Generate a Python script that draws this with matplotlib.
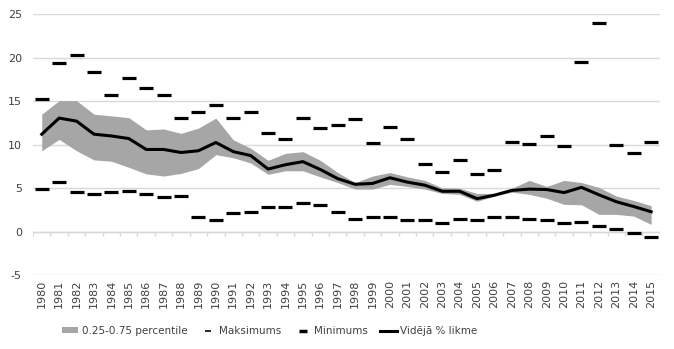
import matplotlib
matplotlib.use("Agg")
import matplotlib.pyplot as plt
import numpy as np
from matplotlib.lines import Line2D
from matplotlib.patches import Patch

# data
years = list(range(1980, 2016))
mean_rate = [11.2, 13.05, 12.7, 11.2, 11.0, 10.7, 9.45, 9.45, 9.1, 9.3,
             10.25, 9.2, 8.75, 7.2, 7.7, 8.05, 7.15, 6.1, 5.45, 5.55,
             6.2, 5.7, 5.35, 4.65, 4.65, 3.8, 4.2, 4.75, 4.9, 4.85,
             4.5, 5.1, 4.25, 3.45, 2.9, 2.3]
p75 = [13.5, 15.05, 15.05, 13.5, 13.3, 13.1, 11.7, 11.8, 11.3, 11.9,
       13.05, 10.55, 9.6, 8.2, 9.0, 9.2, 8.2, 6.8, 5.65, 6.4,
       6.8, 6.3, 5.9, 5.05, 5.0, 4.4, 4.4, 5.0, 5.9, 5.2,
       5.9, 5.65, 5.1, 4.1, 3.6, 3.0]
p25 = [9.3, 10.6, 9.3, 8.25, 8.1, 7.4, 6.65, 6.4, 6.7, 7.25,
       8.85, 8.5, 7.9, 6.6, 7.0, 7.0, 6.3, 5.65, 4.9, 4.9,
       5.45, 5.2, 4.9, 4.4, 4.3, 3.5, 4.1, 4.55, 4.3, 3.85,
       3.15, 3.1, 2.0, 2.0, 1.8, 0.85]
maxima = [15.2, 19.4, 20.3, 18.3, 15.7, 17.7, 16.5, 15.7, 13.1, 13.8,
          14.6, 13.1, 13.7, 11.3, 10.6, 13.1, 11.9, 12.2, 12.9, 10.2,
          12.0, 10.7, 7.8, 6.9, 8.2, 6.6, 7.1, 10.25, 10.1, 11.0,
          9.8, 19.5, 24.0, 10.0, 9.1, 10.25]
minima = [4.9, 5.7, 4.6, 4.3, 4.6, 4.7, 4.3, 4.0, 4.1, 1.7,
          1.3, 2.1, 2.3, 2.8, 2.9, 3.3, 3.1, 2.3, 1.5, 1.7,
          1.7, 1.4, 1.3, 1.0, 1.5, 1.4, 1.7, 1.7, 1.5, 1.4,
          1.0, 1.15, 0.7, 0.35, -0.1, -0.6]

legend_labels = ["0.25-0.75 percentile", "Maksimums", "Minimums", "Vidējā % likme"]

band_color = "#a6a6a6"
grid_color = "#d9d9d9"
text_color = "#404040"

plt.rcParams['font.family'] = ['DejaVu Sans']
plt.rcParams['axes.unicode_minus'] = False

fig = plt.figure(figsize=(6.74, 3.49), dpi=100)
ax = fig.add_axes([0.049, 0.211, 0.93, 0.749])

x = np.arange(len(years))

ax.fill_between(x, p25, p75, color=band_color, linewidth=0, zorder=2)
ax.plot(x, maxima, linestyle="none", marker="_", markersize=9.5,
        markeredgewidth=2.3, color="black", zorder=3)
ax.plot(x, minima, linestyle="none", marker="_", markersize=9.5,
        markeredgewidth=2.3, color="black", zorder=3)
ax.plot(x, mean_rate, color="black", linewidth=2.2, zorder=4)

ax.set_ylim(-5, 25)
ax.set_xlim(-0.5, len(years) - 0.5)
ax.set_yticks(range(-5, 30, 5))
ax.yaxis.grid(True, color=grid_color, linewidth=1)
ax.set_axisbelow(True)
for s in ax.spines.values():
    s.set_visible(False)
ax.tick_params(axis="y", length=0, labelsize=8, labelcolor=text_color, pad=8)

# category axis crossing at zero with small tick marks between categories
ax.axhline(0, color=grid_color, linewidth=1, zorder=1)
bounds = np.arange(len(years) + 1) - 0.5
ax.vlines(bounds, -0.45, 0, color=grid_color, linewidth=1, zorder=1)

ax.set_xticks(x)
ax.set_xticklabels([str(y) for y in years], rotation=90)
ax.tick_params(axis="x", length=0, labelsize=8, labelcolor=text_color, pad=3)

handles = [
    Patch(facecolor=band_color, edgecolor="none"),
    Line2D([], [], linestyle="none", marker="_", markersize=5,
           markeredgewidth=1.2, color="black"),
    Line2D([], [], linestyle="none", marker="_", markersize=6,
           markeredgewidth=2.5, color="black"),
    Line2D([], [], color="black", linewidth=2.2),
]
fig.legend(handles, legend_labels, loc="lower center", ncol=4, frameon=False,
           fontsize=7.5, bbox_to_anchor=(0.4, 0.01), handlelength=1.6,
           handleheight=0.5, handletextpad=0.3, columnspacing=1.2,
           labelcolor=text_color)

fig.savefig("out.png", dpi=100)
